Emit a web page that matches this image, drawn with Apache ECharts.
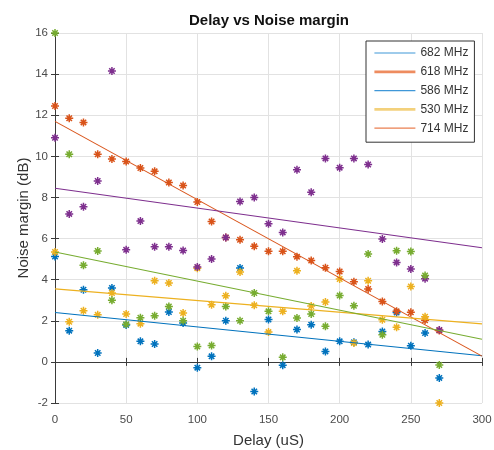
<!DOCTYPE html>
<html>
<head>
<meta charset="utf-8">
<title>Delay vs Noise margin</title>
<script src="https://cdn.jsdelivr.net/npm/echarts@6/dist/echarts.min.js"></script>
<style>
  html, body { margin: 0; padding: 0; background: #fff; }
  #chart { width: 494px; height: 450px; }
</style>
</head>
<body>
<div id="chart"></div>
<script>
// Delay settings (uS) shared by every measurement set
const delays = [0, 10, 20, 30, 40, 50, 60, 70, 80, 90, 100, 110, 120, 130,
                140, 150, 160, 170, 180, 190, 200, 210, 220, 230, 240, 250, 260, 270];

// Noise margin (dB) per measurement set, one value per delay
const blueNM   = [5.13, 1.52, 3.51, 0.43, 3.6, 1.8, 1.0, 0.87, 2.43, 1.89, -0.28, 0.27, 2.0, 4.57,
                  -1.44, 2.06, -0.16, 1.57, 1.81, 0.51, 1.0, 0.95, 0.84, 1.48, 2.4, 0.79, 1.4, -0.78];
const orangeNM = [12.45, 11.85, 11.65, 10.1, 9.87, 9.75, 9.43, 9.27, 8.73, 8.58, 7.78, 6.83, 6.05, 5.94,
                  5.62, 5.38, 5.38, 5.12, 4.93, 4.58, 4.4, 3.9, 3.55, 2.94, 2.46, 2.41, 2.02, 1.53];
const yellowNM = [5.35, 1.95, 2.49, 2.29, 3.35, 2.33, 1.86, 3.95, 3.84, 2.38, 4.55, 2.78, 3.22, 4.37,
                  2.75, 1.45, 2.46, 4.43, 2.72, 2.91, 4.03, 0.92, 3.95, 2.05, 1.68, 3.67, 2.2, -2.0];
const purpleNM = [10.9, 7.2, 7.55, 8.8, 14.15, 5.45, 6.85, 5.6, 5.6, 5.42, 4.62, 5.0, 6.05, 7.8,
                  8.0, 6.72, 6.3, 9.35, 8.25, 9.9, 9.45, 9.9, 9.6, 5.98, 4.84, 4.52, 4.05, 1.55];
const greenNM  = [16.0, 10.1, 4.7, 5.4, 3.0, 1.83, 2.15, 2.25, 2.7, 2.0, 0.75, 0.8, 2.7, 2.0,
                  3.35, 2.46, 0.22, 2.13, 2.33, 1.73, 3.23, 2.73, 5.25, 1.32, 5.41, 5.37, 4.2, -0.15];

// Linear fit of each set: noise margin at delay 0 and at delay 300
const fitX     = [0, 300];
const blueFit   = [2.4, 0.3];
const orangeFit = [11.7, 0.28];
const yellowFit = [3.55, 1.85];
const purpleFit = [8.45, 5.55];
const greenFit  = [5.35, 1.1];

// Legend entries
const legendNames  = ['682 MHz', '618 MHz', '586 MHz', '530 MHz', '714 MHz'];
const legendColors = ['#3f97d8', '#ee8c5f', '#3f97d8', '#f3d17c', '#ea7f50'];
const legendWidths = [1.2, 2.8, 1.2, 2.8, 1.2];

// Axis ticks
const xTicks = { min: 0, max: 300, step: 50 };
const yTicks = { min: -2, max: 16, step: 2 };

const COLORS = {
  blue: '#0072BD', orange: '#D95319', yellow: '#EDB120', purple: '#7E2F8E', green: '#77AC30'
};
const FONT = 'Liberation Sans, Arial, sans-serif';

// Asterisk marker: a plus and a cross drawn as strokes
const ASTERISK = 'path://M5,0L5,10M0,5L10,5M1.6,1.6L8.4,8.4M1.6,8.4L8.4,1.6';

function pairs(xs, ys) { return xs.map((x, i) => [x, ys[i]]); }

function scatter(name, values, color) {
  return {
    name, type: 'scatter', data: pairs(delays, values),
    symbol: ASTERISK, symbolSize: 8,
    itemStyle: { color: color, borderColor: color, borderWidth: 1.5, opacity: 1 },
    emphasis: { disabled: true }, z: 3
  };
}
function fit(name, ends, color) {
  return {
    name, type: 'line', data: pairs(fitX, ends),
    symbol: 'none', lineStyle: { color: color, width: 1.1 },
    emphasis: { disabled: true }, z: 4
  };
}

const labelStyle = { color: '#4a4a4a', fontSize: 11.5, fontFamily: FONT };
const axisLineStyle = { show: true, lineStyle: { color: '#3a3a3a', width: 1 } };
const tickStyle = { show: true, inside: true, length: 4, lineStyle: { color: '#3a3a3a' } };
const gridLine = { show: true, lineStyle: { color: '#e2e2e2', width: 1 } };

const series = [
  scatter('blueSet', blueNM, COLORS.blue),
  scatter('orangeSet', orangeNM, COLORS.orange),
  scatter('yellowSet', yellowNM, COLORS.yellow),
  scatter('purpleSet', purpleNM, COLORS.purple),
  scatter('greenSet', greenNM, COLORS.green),
  fit('blueFit', blueFit, COLORS.blue),
  fit('orangeFit', orangeFit, COLORS.orange),
  fit('yellowFit', yellowFit, COLORS.yellow),
  fit('purpleFit', purpleFit, COLORS.purple),
  fit('greenFit', greenFit, COLORS.green)
];
// Legend-only entries
legendNames.forEach((n, i) => {
  series.push({
    name: n, type: 'line', data: [], symbol: 'none',
    color: legendColors[i],
    lineStyle: { color: legendColors[i], width: legendWidths[i] }
  });
});

const chart = echarts.init(document.getElementById('chart'), null, { renderer: 'canvas' });
chart.setOption({
  animation: false,
  backgroundColor: '#fff',
  title: {
    text: 'Delay vs Noise margin',
    left: 264, top: 8, textAlign: 'center',
    textStyle: { fontSize: 15, fontWeight: 'bold', color: '#111', fontFamily: FONT }
  },
  grid: { left: 55, right: 12, top: 33, bottom: 47, containLabel: false, outerBoundsMode: 'none' },
  legend: {
    data: legendNames.map((n, i) => ({
      name: n,
      lineStyle: { color: legendColors[i], width: legendWidths[i] }
    })),
    orient: 'vertical', left: 366, top: 41,
    itemWidth: 41, itemHeight: 14, itemGap: 6.8,
    padding: [6, 6, 8, 7],
    backgroundColor: '#fff', borderColor: '#333', borderWidth: 1,
    selectedMode: false,
    itemStyle: { opacity: 0 },
    textStyle: { color: '#333', fontSize: 12, fontFamily: FONT }
  },
  xAxis: [
    {
      type: 'value', min: xTicks.min, max: xTicks.max, interval: xTicks.step, position: 'bottom',
      name: 'Delay (uS)', nameLocation: 'middle', nameGap: 30, nameMoveOverlap: false,
      nameTextStyle: { color: '#333', fontSize: 15, fontFamily: FONT },
      axisLine: axisLineStyle, axisTick: tickStyle, splitLine: gridLine,
      axisLabel: Object.assign({ margin: 11 }, labelStyle)
    },
    {
      type: 'value', min: xTicks.min, max: xTicks.max, interval: xTicks.step, position: 'top',
      axisLine: axisLineStyle, axisTick: tickStyle, splitLine: { show: false },
      axisLabel: { show: false }
    }
  ],
  yAxis: [
    {
      type: 'value', min: yTicks.min, max: yTicks.max, interval: yTicks.step, position: 'left',
      name: 'Noise margin (dB)', nameLocation: 'middle', nameGap: 24, nameMoveOverlap: false,
      nameTextStyle: { color: '#333', fontSize: 15, fontFamily: FONT },
      axisLine: axisLineStyle, axisTick: tickStyle, splitLine: gridLine,
      axisLabel: Object.assign({ margin: 7 }, labelStyle)
    },
    {
      type: 'value', min: yTicks.min, max: yTicks.max, interval: yTicks.step, position: 'right',
      axisLine: axisLineStyle, axisTick: tickStyle, splitLine: { show: false },
      axisLabel: { show: false }
    }
  ],
  series: series
});
</script>
</body>
</html>
